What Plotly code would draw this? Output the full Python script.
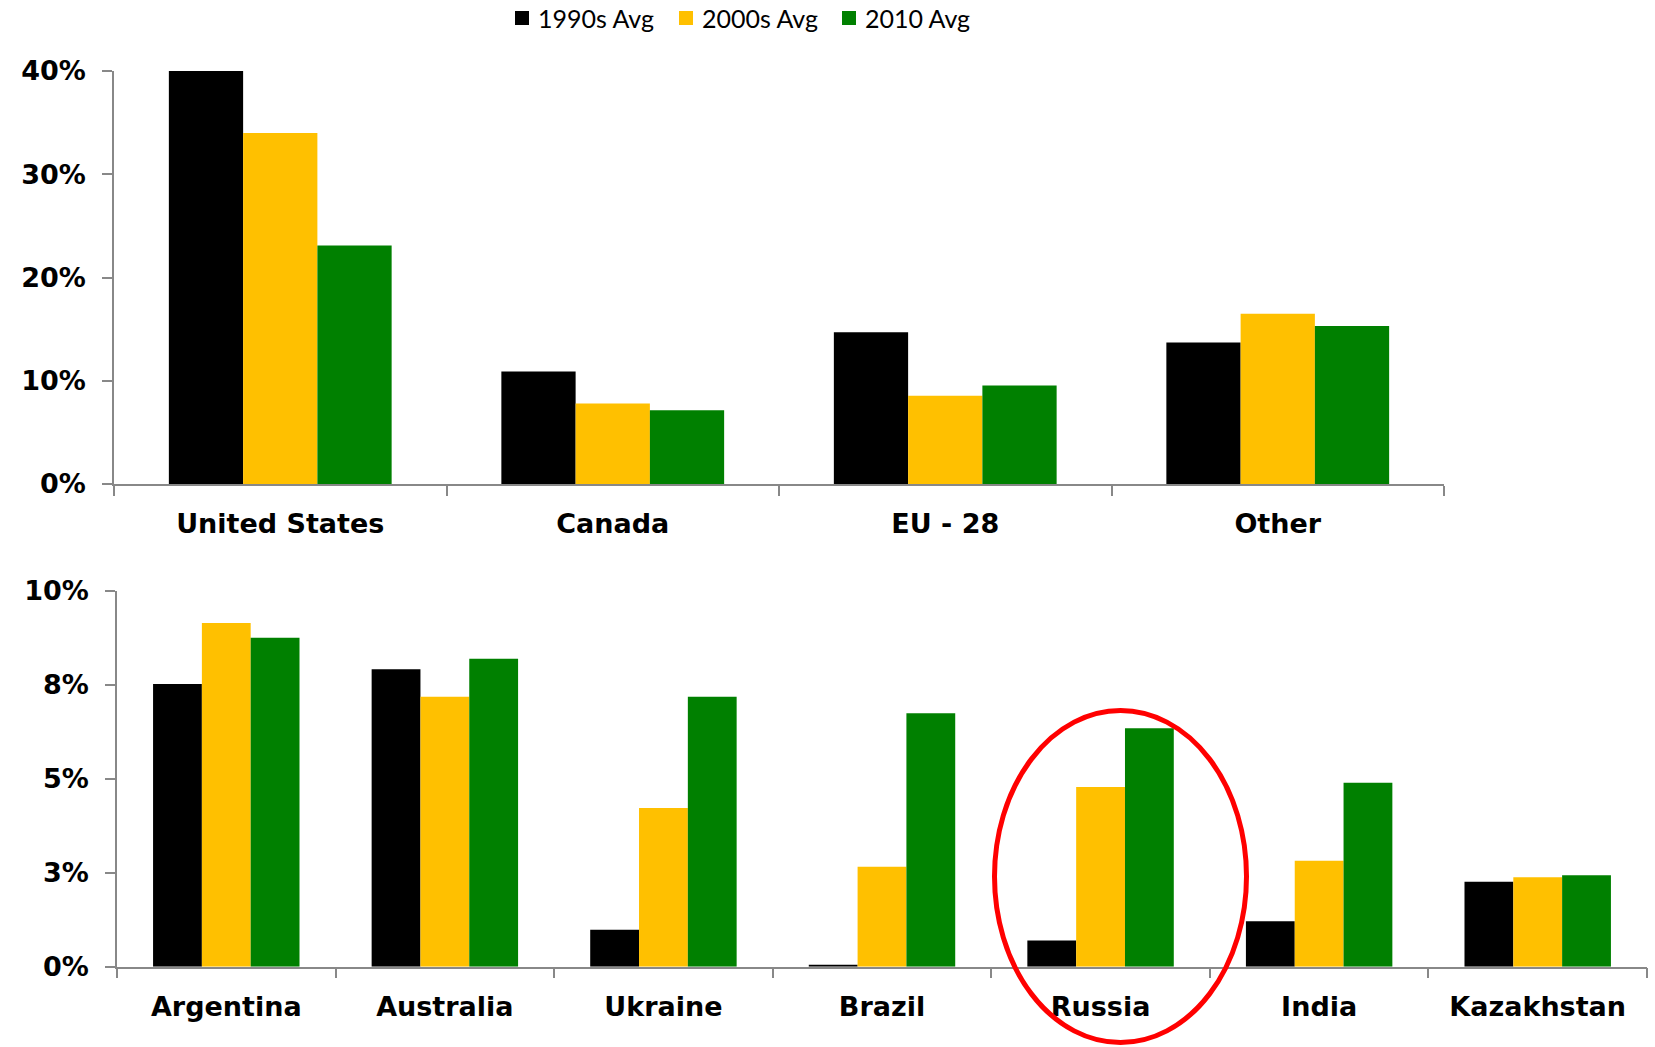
import plotly.graph_objects as go

W, H = 1655, 1047

series_names = ["1990s Avg", "2000s Avg", "2010 Avg"]
series_colors = ["#000000", "#FFC000", "#008000"]

top_categories = ["United States", "Canada", "EU - 28", "Other"]
top_1990s = [40.0, 10.9, 14.7, 13.7]
top_2000s = [34.0, 7.8, 8.55, 16.5]
top_2010 = [23.1, 7.15, 9.55, 15.3]

bottom_categories = ["Argentina", "Australia", "Ukraine", "Brazil", "Russia", "India", "Kazakhstan"]
bottom_1990s = [7.52, 7.91, 0.98, 0.03, 0.70, 1.21, 2.26]
bottom_2000s = [9.14, 7.18, 4.22, 2.66, 4.78, 2.82, 2.38]
bottom_2010 = [8.75, 8.19, 7.18, 6.74, 6.34, 4.89, 2.43]

top_tickvals = [0, 10, 20, 30, 40]
top_ticktext = ["0%", "10%", "20%", "30%", "40%"]
bottom_tickvals = [0, 2.5, 5, 7.5, 10]
bottom_ticktext = ["0%", "3%", "5%", "8%", "10%"]

fig = go.Figure()

top_vals = [top_1990s, top_2000s, top_2010]
bot_vals = [bottom_1990s, bottom_2000s, bottom_2010]
for name, color, tv, bv in zip(series_names, series_colors, top_vals, bot_vals):
    fig.add_trace(go.Bar(x=top_categories, y=tv, name=name, marker_color=color,
                         marker_line_width=0, xaxis="x", yaxis="y", showlegend=False))
    fig.add_trace(go.Bar(x=bottom_categories, y=bv, name=name, marker_color=color,
                         marker_line_width=0, xaxis="x2", yaxis="y2", showlegend=False))

def px_x(p):
    return p / W

def px_y(p):
    return 1 - p / H

axis_color = "#888888"
tick_font = dict(family="DejaVu Sans", size=27, color="#000000", weight="bold")

common_x = dict(type="category", showline=True, linecolor=axis_color, linewidth=1.5,
                ticks="outside", tickson="boundaries", ticklen=10, tickcolor=axis_color,
                tickwidth=1.5, showgrid=False, zeroline=False, automargin=False,
                tickfont=tick_font, ticklabelstandoff=15)
common_y = dict(showline=True, linecolor=axis_color, linewidth=1.5, ticks="outside",
                ticklen=10, tickcolor=axis_color, tickwidth=1.5, showgrid=False,
                zeroline=False, automargin=False, tickfont=tick_font, ticklabelstandoff=11)

fig.update_layout(
    width=W, height=H,
    margin=dict(l=0, r=0, t=0, b=0, autoexpand=False),
    paper_bgcolor="white", plot_bgcolor="white",
    barmode="group", bargap=0.33, bargroupgap=0,
    showlegend=False,
    xaxis=dict(domain=[px_x(114), px_x(1444)], anchor="y", **common_x),
    yaxis=dict(domain=[px_y(484), px_y(71)], anchor="x", range=[0, 40],
               tickvals=top_tickvals, ticktext=top_ticktext, **common_y),
    xaxis2=dict(domain=[px_x(117), px_x(1647)], anchor="y2", **common_x),
    yaxis2=dict(domain=[px_y(966.7), px_y(590.7)], anchor="x2", range=[0, 10],
                tickvals=bottom_tickvals, ticktext=bottom_ticktext, **common_y),
)

# Legend (drawn manually to match the reference spacing)
legend_x = [515, 679, 842]
legend_cy = 18
sq = 14
for lx, name, color in zip(legend_x, series_names, series_colors):
    fig.add_shape(type="rect", xref="paper", yref="paper",
                  x0=px_x(lx), x1=px_x(lx + sq),
                  y0=px_y(legend_cy + sq / 2), y1=px_y(legend_cy - sq / 2),
                  line=dict(width=0), fillcolor=color)
    fig.add_annotation(xref="paper", yref="paper", x=px_x(lx + sq + 7), y=px_y(legend_cy),
                       xanchor="left", yanchor="middle", showarrow=False, text=name,
                       font=dict(family="Lato", size=25, color="#000000"))

fig.add_shape(type="circle", xref="paper", yref="paper",
              x0=px_x(994.5), x1=px_x(1246.5), y0=px_y(1042.5), y1=px_y(710.5),
              line=dict(color="#FF0000", width=5), fillcolor="rgba(0,0,0,0)")

fig.write_html("out.html")
